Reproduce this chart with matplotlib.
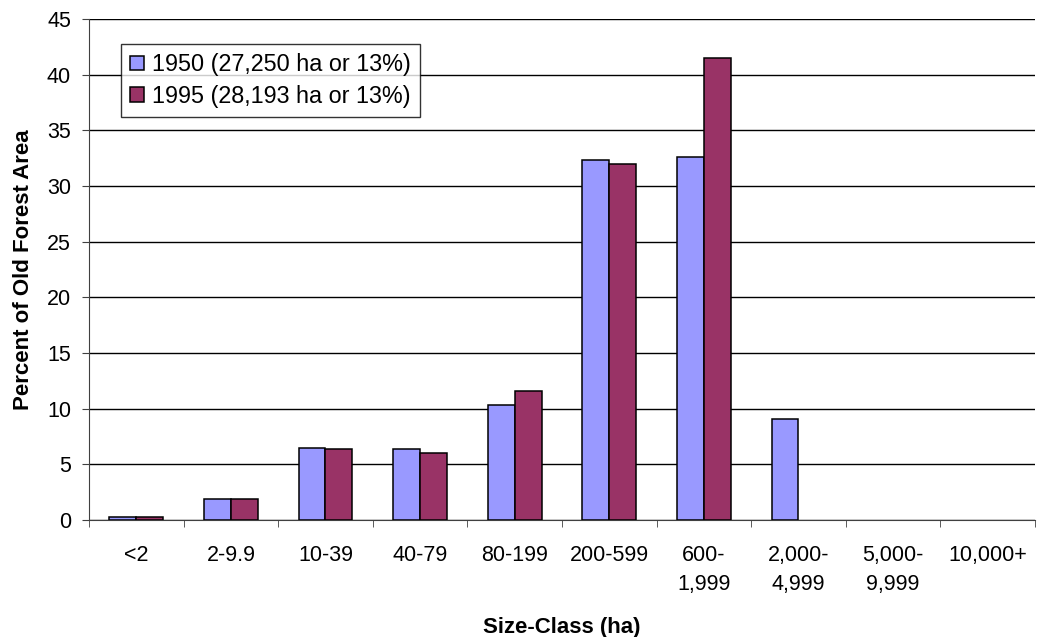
import matplotlib
matplotlib.use("Agg")
import matplotlib.pyplot as plt
import numpy as np

plt.rcParams['font.family'] = ['Liberation Sans', 'DejaVu Sans']

categories = ["<2", "2-9.9", "10-39", "40-79", "80-199", "200-599",
              "600-\n1,999", "2,000-\n4,999", "5,000-\n9,999", "10,000+"]
s1950 = [0.3, 1.9, 6.5, 6.4, 10.3, 32.3, 32.6, 9.1, 0, 0]
s1995 = [0.3, 1.9, 6.4, 6.0, 11.6, 32.0, 41.5, 0, 0, 0]
labels = ["1950 (27,250 ha or 13%)", "1995 (28,193 ha or 13%)"]
colors = ["#9999FF", "#993366"]

fig = plt.figure(figsize=(10.47, 6.37), dpi=100)
ax = fig.add_axes([0.085, 0.1837, 0.9035, 0.7863])

x = np.arange(len(categories))
w = 0.285
lw1 = [1.1 if v > 0 else 0 for v in s1950]
lw2 = [1.1 if v > 0 else 0 for v in s1995]
ax.bar(x - w/2, s1950, width=w, color=colors[0], edgecolor='black', linewidth=lw1, label=labels[0], zorder=3)
ax.bar(x + w/2, s1995, width=w, color=colors[1], edgecolor='black', linewidth=lw2, label=labels[1], zorder=3)

ax.set_xlim(-0.5, len(categories) - 0.5)
ax.set_ylim(0, 45)
ax.set_yticks(np.arange(0, 46, 5))
ax.yaxis.grid(True, color='black', linewidth=1, zorder=0)
ax.set_axisbelow(True)

ax.set_xticks(x)
ax.set_xticklabels(categories, fontsize=15.5, linespacing=1.5, va='top')
ax.tick_params(axis='x', length=0, pad=18)
ax.set_xticks(np.arange(-0.5, len(categories) + 0.5, 1), minor=True)
ax.tick_params(axis='x', which='minor', length=5, direction='out', color='#404040')
ax.tick_params(axis='y', labelsize=15.5, length=5, direction='out', pad=8, color='#404040')

for s in ['top', 'right']:
    ax.spines[s].set_visible(False)
for s in ['left', 'bottom']:
    ax.spines[s].set_color('#404040')

ax.set_xlabel("Size-Class (ha)", fontsize=16, fontweight='bold', labelpad=16)
ax.set_ylabel("Percent of Old Forest Area", fontsize=16, fontweight='bold', labelpad=9)

leg = ax.legend(loc='upper left', bbox_to_anchor=(0.0338, 0.950), fontsize=16.8, frameon=True,
                fancybox=False, edgecolor='black', handlelength=0.57, handleheight=0.57,
                handletextpad=0.37, borderpad=0.4, labelspacing=0.35, borderaxespad=0)
leg.get_frame().set_linewidth(1)

fig.savefig("out.png", dpi=100)
